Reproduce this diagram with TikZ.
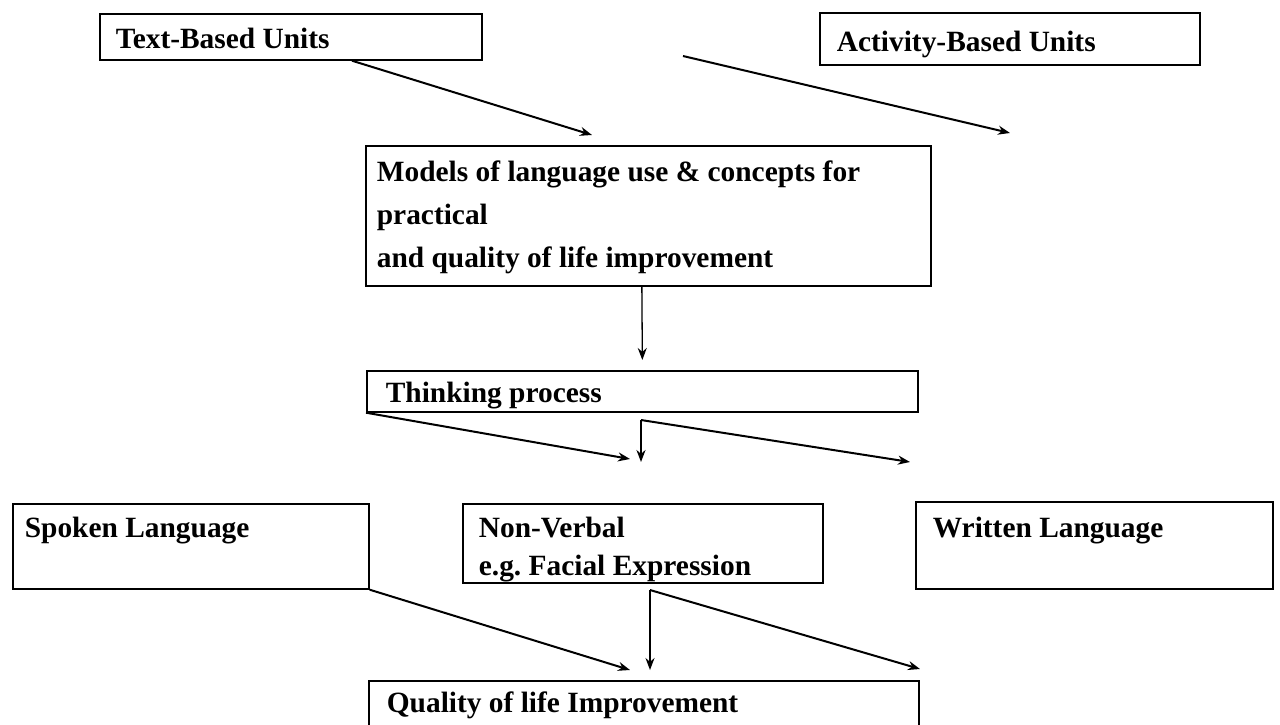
\documentclass[tikz,border=0pt]{standalone}
\usepackage{fontspec}
\setmainfont{Liberation Serif}
\usetikzlibrary{arrows.meta,calc}
\frenchspacing
\newcommand{\bxt}[5]{\parbox[c][#2][t]{#1}{\leftskip=#3\relax\rule{0pt}{#4}#5}}
\begin{document}
\begin{tikzpicture}[x=0.5pt,y=-0.5pt,
  box/.style={draw, line width=0.85pt, rectangle, inner sep=0pt, anchor=north west,
    font=\bfseries\fontsize{14.7}{21.5}\selectfont},
  arr/.style={line width=1pt, -{Stealth[length=6pt,width=4.5pt]}},
  varr/.style={line width=0.65pt, -{Stealth[length=6pt,width=4.5pt]}}]
\useasboundingbox (0,0) rectangle (1280,724);
% boxes
\node[box] (tb) at (99,13) {\bxt{191pt}{23pt}{8pt}{17.5pt}{Text-Based Units}};
\node[box] (ab) at (819,12) {\bxt{190pt}{26pt}{8.5pt}{19.5pt}{Activity-Based Units}};
\node[box] (models) at (365,145) {\bxt{282.5pt}{70pt}{5.5pt}{18pt}{Models of language use \& concepts for\\practical\\and quality of life improvement}};
\node[box] (think) at (366,370) {\bxt{275.5pt}{20.5pt}{9.5pt}{16pt}{Thinking process}};
\node[box] (spoken) at (12,503) {\bxt{178pt}{42.5pt}{6pt}{17pt}{Spoken Language}};
\node[box] (nv) at (462,503) {\bxt{180pt}{39.5pt}{8pt}{17pt}{\fontsize{14.7}{19}\selectfont Non-Verbal\\e.g. Facial Expression}};
\node[box] (written) at (915,501) {\bxt{178.5pt}{43.5pt}{8.5pt}{18pt}{Written Language}};
\node[box] (quality) at (368,680) {\bxt{275pt}{23pt}{9pt}{16pt}{Quality of life Improvement}};
% free ends and branch points
\coordinate (t1) at (592,135);
\coordinate (a2s) at (683,56);
\coordinate (a2e) at (1010,133);
\coordinate (t2) at (630,459);
\coordinate (br1) at (641,420);
\coordinate (t3) at (641,462);
\coordinate (t4) at (910,462);
\coordinate (t5) at (630,670);
\coordinate (br2) at (650,590);
\coordinate (t6) at (650,670);
\coordinate (t7) at (920,669);
% connectors
\draw[arr] ([xshift=126.5pt]tb.south west) -- (t1);
\draw[arr] (a2s) -- (a2e);
\draw[varr] ([xshift=-3.25pt]models.south) -- ([yshift=5pt]think.north);
\draw[arr] (think.south west) -- (t2);
\draw[arr] (br1) -- (t3);
\draw[arr] (br1) -- (t4);
\draw[arr] (spoken.south east) -- (t5);
\draw[varr] (br2) -- (t6);
\draw[arr] (br2) -- (t7);
\end{tikzpicture}
\end{document}
